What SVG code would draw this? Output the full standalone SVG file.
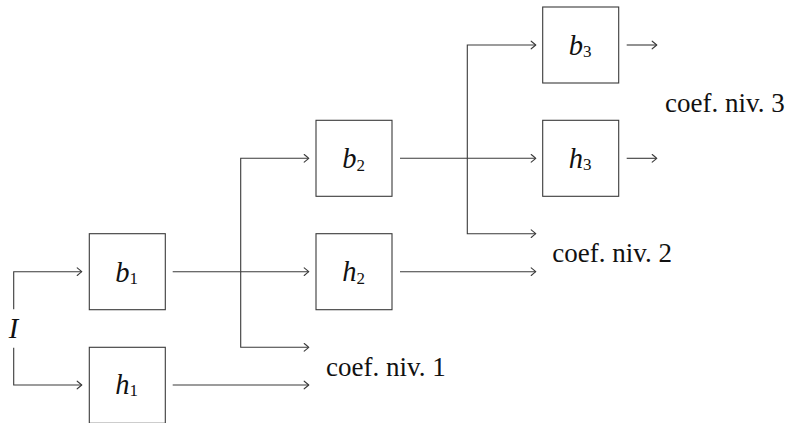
<svg xmlns="http://www.w3.org/2000/svg" width="785" height="423" viewBox="0 0 785 423">
<style>
.box{fill:#fff;stroke:#3a3a3a;stroke-width:1.1}
.ln{fill:none;stroke:#3a3a3a;stroke-width:1.1}
.lbl{font-family:"Liberation Serif","Times New Roman",serif;font-size:27px;fill:#111}
.m{font-family:"Liberation Serif","Times New Roman",serif;font-size:28.5px;font-style:italic;fill:#111;text-anchor:middle}
.sub{font-style:normal;font-size:17px}
</style>
<defs>
<marker id="ar" markerUnits="userSpaceOnUse" markerWidth="12" markerHeight="12" viewBox="-8 -6 10 12" refX="0" refY="0" orient="auto">
<path d="M-4.5,-3.8 Q-1.2,-1.2 0,0 Q-1.2,1.2 -4.5,3.8" fill="none" stroke="#3a3a3a" stroke-width="1.1" stroke-linecap="round"/>
</marker>
</defs>
<g id="connectors">
<path class="ln" d="M13.7,309.3 V271.7 H81.7" marker-end="url(#ar)"/>
<path class="ln" d="M13.7,347.7 V385 H81.7" marker-end="url(#ar)"/>
<path class="ln" d="M172.7,271.7 H308.7" marker-end="url(#ar)"/>
<path class="ln" d="M172.7,385 H308.7" marker-end="url(#ar)"/>
<path class="ln" d="M240.7,271.7 V158.3 H308.7" marker-end="url(#ar)"/>
<path class="ln" d="M240.7,271.7 V347.3 H308.7" marker-end="url(#ar)"/>
<path class="ln" d="M400,158.3 H535.7" marker-end="url(#ar)"/>
<path class="ln" d="M400,271.7 H535.7" marker-end="url(#ar)"/>
<path class="ln" d="M467.3,158.3 V45 H535.7" marker-end="url(#ar)"/>
<path class="ln" d="M467.3,158.3 V233.7 H535.7" marker-end="url(#ar)"/>
<path class="ln" d="M626.7,45 H656.7" marker-end="url(#ar)"/>
<path class="ln" d="M626.7,158.3 H656.7" marker-end="url(#ar)"/>
</g>
<g id="I"><text class="m" x="13.5" y="337.7">I</text></g>
<g id="b1"><rect class="box" x="89.3" y="233.7" width="76" height="76"/><text class="m" x="126.5" y="281.5">b<tspan class="sub" dy="2.5">1</tspan></text></g>
<g id="h1"><rect class="box" x="89.3" y="347.3" width="76" height="76"/><text class="m" x="126.5" y="393.5">h<tspan class="sub" dy="2.5">1</tspan></text></g>
<g id="b2"><rect class="box" x="316" y="120.3" width="76" height="76"/><text class="m" x="353.5" y="168">b<tspan class="sub" dy="2.5">2</tspan></text></g>
<g id="h2"><rect class="box" x="316" y="233.7" width="76" height="76"/><text class="m" x="353.5" y="281">h<tspan class="sub" dy="2.5">2</tspan></text></g>
<g id="b3"><rect class="box" x="542.7" y="7" width="76" height="76"/><text class="m" x="580" y="54.7">b<tspan class="sub" dy="2.5">3</tspan></text></g>
<g id="h3"><rect class="box" x="542.7" y="120.3" width="76" height="76"/><text class="m" x="580" y="167.5">h<tspan class="sub" dy="2.5">3</tspan></text></g>
<g id="labels">
<text class="lbl" x="326" y="375.7">coef. niv. 1</text>
<text class="lbl" x="552.3" y="262.3">coef. niv. 2</text>
<text class="lbl" x="665" y="111.7">coef. niv. 3</text>
</g>
</svg>
